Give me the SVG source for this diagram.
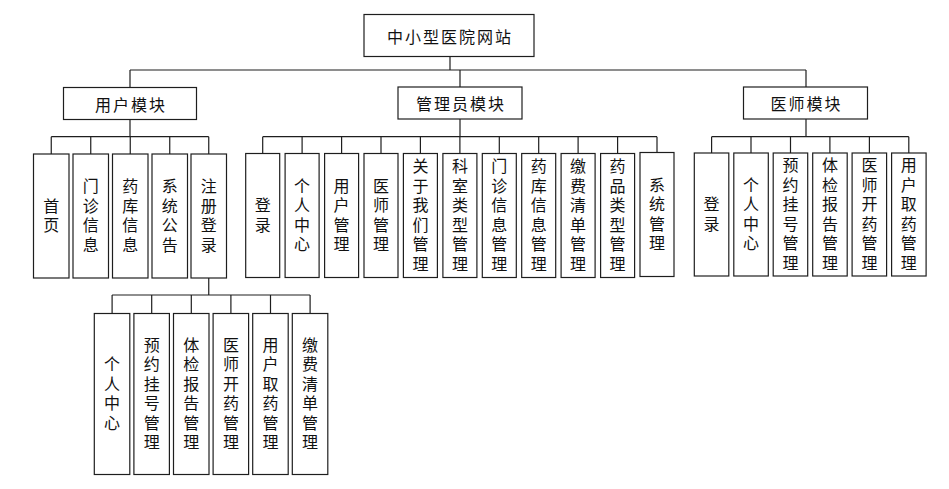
<svg xmlns="http://www.w3.org/2000/svg" width="949" height="489" viewBox="0 0 949 489">
<style>
rect.b{fill:#fff;stroke:#1e1e1e;stroke-width:1.2}
.c path{fill:none;stroke:#1e1e1e;stroke-width:1.2}
text{font-family:"Noto Sans CJK SC","Liberation Sans",sans-serif;font-size:16px;fill:#111;text-anchor:middle;dominant-baseline:central}
text.h{letter-spacing:2px}
text.v{writing-mode:vertical-rl;text-orientation:upright;letter-spacing:3.5px}
</style>
<rect width="949" height="489" fill="#fff"/>
<g class="c" id="connectors">
<path d="M450 56.5V70M130 70H806M130 70V87M460 70V87M806 70V87"/>
<path d="M130 119V136.7M51.25 136.7H208.75M51.25 136.7V154M90.75 136.7V154M130.25 136.7V154M169.75 136.7V154M208.75 136.7V154"/>
<path d="M460 119V136.7M262.7 136.7H657M262.7 136.7V153.5M302.1 136.7V153.5M341.6 136.7V153.5M381 136.7V153.5M420.4 136.7V153.5M459.9 136.7V153.5M499.3 136.7V153.5M538.7 136.7V153.5M578.1 136.7V153.5M617.6 136.7V153.5M657 136.7V153.5"/>
<path d="M806 119V136.7M711.6 136.7H908.8M711.6 136.7V153M751 136.7V153M790.5 136.7V153M829.9 136.7V153M869.4 136.7V153M908.8 136.7V153"/>
<path d="M208.75 278V295M112.1 295H310.1M112.1 295V313.5M151.7 295V313.5M191.3 295V313.5M230.9 295V313.5M270.5 295V313.5M310.1 295V313.5"/>
</g>
<g id="root"><rect class="b" x="364" y="14.5" width="170" height="42"/><text class="h" x="450" y="36">中小型医院网站</text></g>
<g id="user"><rect class="b" x="63.5" y="87.5" width="133" height="32"/><text class="h" x="131" y="103.5">用户模块</text></g>
<g id="admin"><rect class="b" x="398" y="87" width="124" height="32"/><text class="h" x="461" y="103">管理员模块</text></g>
<g id="doctor"><rect class="b" x="743.5" y="87" width="124" height="32"/><text class="h" x="806.5" y="103">医师模块</text></g>

<g id="u1"><rect class="b" x="33.5" y="154" width="35.5" height="124"/><text class="v" x="51.25" y="217">首页</text></g>
<g id="u2"><rect class="b" x="73" y="154" width="35.5" height="124"/><text class="v" x="90.75" y="217">门诊信息</text></g>
<g id="u3"><rect class="b" x="112.5" y="154" width="35.5" height="124"/><text class="v" x="130.25" y="217">药库信息</text></g>
<g id="u4"><rect class="b" x="152" y="154" width="35.5" height="124"/><text class="v" x="169.75" y="217">系统公告</text></g>
<g id="u5"><rect class="b" x="191" y="154" width="35.5" height="124"/><text class="v" x="208.75" y="217">注册登录</text></g>

<g id="a1"><rect class="b" x="245.7" y="153.5" width="34" height="124"/><text class="v" x="262.7" y="216.5">登录</text></g>
<g id="a2"><rect class="b" x="285.1" y="153.5" width="34" height="124"/><text class="v" x="302.1" y="216.5">个人中心</text></g>
<g id="a3"><rect class="b" x="324.6" y="153.5" width="34" height="124"/><text class="v" x="341.6" y="216.5">用户管理</text></g>
<g id="a4"><rect class="b" x="364" y="153.5" width="34" height="124"/><text class="v" x="381" y="216.5">医师管理</text></g>
<g id="a5"><rect class="b" x="403.4" y="153.5" width="34" height="124"/><text class="v" x="420.4" y="216.5">关于我们管理</text></g>
<g id="a6"><rect class="b" x="442.9" y="153.5" width="34" height="124"/><text class="v" x="459.9" y="216.5">科室类型管理</text></g>
<g id="a7"><rect class="b" x="482.3" y="153.5" width="34" height="124"/><text class="v" x="499.3" y="216.5">门诊信息管理</text></g>
<g id="a8"><rect class="b" x="521.7" y="153.5" width="34" height="124"/><text class="v" x="538.7" y="216.5">药库信息管理</text></g>
<g id="a9"><rect class="b" x="561.1" y="153.5" width="34" height="124"/><text class="v" x="578.1" y="216.5">缴费清单管理</text></g>
<g id="a10"><rect class="b" x="600.6" y="153.5" width="34" height="124"/><text class="v" x="617.6" y="216.5">药品类型管理</text></g>
<g id="a11"><rect class="b" x="640" y="152.5" width="34" height="124"/><text class="v" x="657" y="215.5">系统管理</text></g>

<g id="d1"><rect class="b" x="694.3" y="153" width="34.5" height="123"/><text class="v" x="711.6" y="215.5">登录</text></g>
<g id="d2"><rect class="b" x="733.8" y="153" width="34.5" height="123"/><text class="v" x="751" y="215.5">个人中心</text></g>
<g id="d3"><rect class="b" x="773.2" y="153" width="34.5" height="123"/><text class="v" x="790.5" y="215.5">预约挂号管理</text></g>
<g id="d4"><rect class="b" x="812.7" y="153" width="34.5" height="123"/><text class="v" x="829.9" y="215.5">体检报告管理</text></g>
<g id="d5"><rect class="b" x="852.1" y="153" width="34.5" height="123"/><text class="v" x="869.4" y="215.5">医师开药管理</text></g>
<g id="d6"><rect class="b" x="891.6" y="153" width="34.5" height="123"/><text class="v" x="908.8" y="215.5">用户取药管理</text></g>

<g id="s1"><rect class="b" x="94.3" y="313.5" width="35.5" height="161"/><text class="v" x="112.1" y="395">个人中心</text></g>
<g id="s2"><rect class="b" x="133.9" y="313.5" width="35.5" height="161"/><text class="v" x="151.7" y="395">预约挂号管理</text></g>
<g id="s3"><rect class="b" x="173.5" y="313.5" width="35.5" height="161"/><text class="v" x="191.3" y="395">体检报告管理</text></g>
<g id="s4"><rect class="b" x="213.1" y="313.5" width="35.5" height="161"/><text class="v" x="230.9" y="395">医师开药管理</text></g>
<g id="s5"><rect class="b" x="252.7" y="313.5" width="35.5" height="161"/><text class="v" x="270.5" y="395">用户取药管理</text></g>
<g id="s6"><rect class="b" x="292.3" y="313.5" width="35.5" height="161"/><text class="v" x="310.1" y="395">缴费清单管理</text></g>
</svg>
